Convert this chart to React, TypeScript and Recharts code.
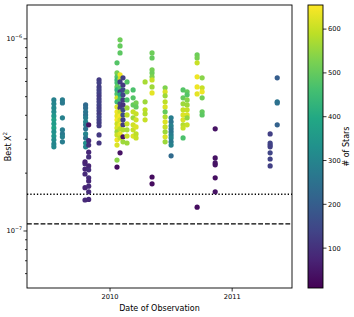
import React from 'react';
import { ScatterChart, Scatter, XAxis, YAxis, ReferenceLine } from 'recharts';

// Observation epochs (decimal year)
const epochDates = [
  2009.54, 2009.61, 2009.8, 2009.795, 2009.825, 2009.91, 2010.057, 2010.082, 2010.106, 2010.139, 2010.189,
  2010.213, 2010.287, 2010.344, 2010.451, 2010.5, 2010.598, 2010.631, 2010.713, 2010.754, 2010.861, 2011.311, 2011.369,
];

// Best chi^2 values, in units of 1e-7
const chiE7: number[][] = [
  [4.81, 4.59, 4.37, 4.17, 3.97, 3.79, 3.61, 3.44, 3.28, 3.12, 2.98, 2.84, 2.74],
  [4.81, 4.64, 3.88, 3.36, 3.2, 3.09, 2.91],
  [4.53, 4.37, 4.17, 4.02, 3.88, 3.7, 3.57, 3.4, 3.2, 3.05, 2.87, 2.74],
  [2.24, 2.1, 1.45, 2.29, 1.98, 1.68],
  [3.57, 2.95, 2.8, 2.57, 2.43, 2.18, 2.08, 1.89, 1.82, 1.71, 1.6, 1.46],
  [6.11, 5.9, 5.62, 5.42, 5.23, 5.05, 4.87, 4.7, 4.53, 4.37, 4.22, 4.07, 3.93, 3.79, 3.66, 3.53, 3.16, 2.87],
  [7.5, 6.65, 6.34, 6.11, 5.9, 5.62, 5.42, 5.17, 4.93, 4.7, 4.42, 4.17, 3.97, 3.79, 3.61, 3.44, 3.28, 3.16, 2.98, 2.8, 2.34, 2.15],
  [9.88, 9.19, 8.45, 6.5, 6.2, 5.97, 5.56, 5.3, 5.11, 4.87, 4.59, 4.37, 4.17, 3.97, 3.79, 3.57, 3.4, 3.2, 3.05, 2.55],
  [6.27, 5.75, 5.42, 5.11, 4.81, 4.53, 4.27, 4.02, 3.79, 3.57, 3.36, 3.09, 2.91],
  [5.97, 5.3, 4.81, 4.37, 4.02, 3.61, 3.36, 3.12, 2.87],
  [5.42, 4.93, 4.53, 4.17, 3.88, 3.57, 3.36, 3.12],
  [4.64, 4.42, 4.07, 3.79, 3.48, 3.2, 3.05],
  [5.97, 4.7, 4.27, 4.07, 3.79],
  [8.45, 7.96, 6.9, 6.65, 6.34, 6.11, 5.62, 5.23, 1.91, 1.76],
  [5.56, 5.3, 5.05, 4.7, 4.42, 4.17, 3.93, 3.7, 3.48, 3.28, 3.09, 2.91],
  [3.88, 3.7, 3.53, 3.4, 3.28, 3.16, 3.05, 2.91, 2.8, 2.46],
  [5.42, 4.93, 4.59, 4.27, 4.02, 3.79, 3.57, 3.44, 3.05],
  [5.3, 5.11, 4.81, 4.53, 4.27, 4.02, 3.88, 3.57],
  [8.25, 7.96, 7.5, 6.34, 5.62, 5.17, 1.33],
  [6.27, 5.56, 5.3, 4.93, 4.17, 4.02],
  [3.4, 2.4, 2.26, 2.21, 1.89, 1.6],
  [3.2, 2.87, 2.8, 2.74, 2.55, 2.37, 2.18],
  [6.27, 4.7, 4.64, 3.57],
];

// Number of stars for each point
const nStars: number[][] = [
  [290, 300, 310, 320, 350, 370, 360, 380, 330, 340, 320, 300, 310],
  [280, 270, 290, 280, 270, 290, 280],
  [230, 240, 260, 250, 280, 300, 270, 250, 300, 260, 330, 300],
  [90, 80, 85, 70, 85, 75],
  [40, 90, 100, 80, 95, 75, 95, 90, 80, 85, 90, 80],
  [120, 130, 125, 130, 135, 120, 125, 130, 135, 125, 130, 120, 140, 130, 125, 120, 115, 110],
  [480, 520, 480, 440, 460, 500, 420, 470, 600, 450, 620, 640, 630, 650, 600, 620, 560, 600, 640, 620, 540, 30],
  [510, 500, 490, 640, 600, 120, 470, 130, 400, 460, 140, 120, 600, 650, 610, 640, 590, 630, 600, 40],
  [130, 110, 150, 140, 120, 100, 150, 160, 130, 120, 580, 40, 560],
  [480, 500, 470, 560, 590, 600, 570, 600, 560],
  [470, 480, 500, 600, 560, 610, 600, 620],
  [520, 500, 600, 610, 620, 590, 600],
  [570, 560, 590, 580, 600],
  [510, 500, 520, 510, 530, 600, 560, 630, 30, 30],
  [530, 620, 560, 590, 620, 500, 580, 620, 600, 560, 620, 560],
  [280, 260, 290, 270, 260, 280, 300, 270, 290, 230],
  [480, 500, 560, 600, 620, 620, 580, 600, 470],
  [500, 480, 540, 560, 600, 620, 550, 600],
  [510, 520, 600, 640, 640, 630, 30],
  [540, 600, 640, 520, 500, 490],
  [40, 40, 45, 40, 35, 40],
  [130, 140, 135, 130, 140, 135, 130],
  [200, 260, 250, 210],
];

const xTicks = [2010, 2011];
const yMajorTicks = [1, 10];
const yMinorTicks = [0.6, 0.7, 0.8, 0.9, 2, 3, 4, 5, 6, 7, 8, 9];
const cbTicks = [100, 200, 300, 400, 500, 600];
const STAR_MIN = 9;
const STAR_MAX = 655;
const dottedLevel = 1.553;
const dashedLevel = 1.088;
const xDomain = [2009.32, 2011.49];
const yDomain = [0.505, 15];

const VIRIDIS = ['#440154', '#482475', '#414487', '#355f8d', '#2a788e', '#21918c', '#22a884', '#44bf70', '#7ad151', '#bddf26', '#fde725'];

function hexToRgb(h: string) {
  return [parseInt(h.slice(1, 3), 16), parseInt(h.slice(3, 5), 16), parseInt(h.slice(5, 7), 16)];
}
function viridis(t: number) {
  const tt = Math.max(0, Math.min(1, t)) * (VIRIDIS.length - 1);
  const i = Math.min(Math.floor(tt), VIRIDIS.length - 2);
  const f = tt - i;
  const a = hexToRgb(VIRIDIS[i]);
  const b = hexToRgb(VIRIDIS[i + 1]);
  const c = a.map((v, k) => Math.round(v + (b[k] - v) * f));
  return `rgb(${c[0]},${c[1]},${c[2]})`;
}

const points = epochDates.flatMap((d, i) =>
  chiE7[i].map((c, j) => ({ date: d, chi: c, stars: nStars[i][j], color: viridis((nStars[i][j] - STAR_MIN) / (STAR_MAX - STAR_MIN)) }))
);

const W = 354;
const H = 317;
const PL = 27;
const PT = 5;
const PR = 292;
const PB = 288;
const FONT = 'DejaVu Sans, sans-serif';
const TICK_FS = 6.7;

const supMap: Record<number, string> = { 1: '\u22127', 10: '\u22126' };

const YTick = (props: any) => {
  const { x, y, payload } = props;
  const v = payload.value;
  const major = v === 1 || v === 10;
  return (
    <g>
      <line x1={x - (major ? 3.5 : 2)} x2={x} y1={y} y2={y} stroke="#000" strokeWidth={0.8} />
      {major && (
        <text x={x - 5} y={y + 2.4} textAnchor="end" fontFamily={FONT} fontSize={TICK_FS} fill="#000">
          10
          <tspan fontSize={4.8} dy={-3.2}>{supMap[v]}</tspan>
        </text>
      )}
    </g>
  );
};

const XTick = (props: any) => {
  const { x, y, payload } = props;
  return (
    <g>
      <line x1={x} x2={x} y1={y} y2={y + 3.5} stroke="#000" strokeWidth={0.8} />
      <text x={x} y={y + 11} textAnchor="middle" fontFamily={FONT} fontSize={TICK_FS} fill="#000">
        {payload.value}
      </text>
    </g>
  );
};

const Dot = (props: any) => {
  const { cx, cy, payload } = props;
  if (cx == null || cy == null) return null;
  return <circle cx={cx} cy={cy} r={2.6} fill={payload.color} />;
};

export default function App() {
  const cbX = 308;
  const cbW = 15;
  const cbY = (v: number) => PT + ((STAR_MAX - v) / (STAR_MAX - STAR_MIN)) * (PB - PT);
  return (
    <div style={{ position: 'absolute', left: 0, top: 0, width: W, height: H, background: '#fff' }}>
      <ScatterChart width={W} height={H} margin={{ top: PT, right: W - PR, bottom: 0, left: 0 }}>
        <XAxis
          type="number"
          dataKey="date"
          domain={xDomain}
          ticks={xTicks}
          allowDataOverflow
          axisLine={false}
          tickLine={false}
          tickSize={0}
          tickMargin={0}
          height={H - PB}
          tick={<XTick />}
          interval={0}
        />
        <YAxis
          type="number"
          dataKey="chi"
          scale="log"
          domain={yDomain}
          ticks={[...yMinorTicks, ...yMajorTicks]}
          allowDataOverflow
          axisLine={false}
          tickLine={false}
          tickSize={0}
          tickMargin={0}
          width={PL}
          tick={<YTick />}
          interval={0}
        />
        <Scatter data={points} isAnimationActive={false} shape={<Dot />} />
        <ReferenceLine y={dottedLevel} stroke="#000" strokeWidth={1.3} strokeDasharray="1.3 2" ifOverflow="visible" />
        <ReferenceLine y={dashedLevel} stroke="#000" strokeWidth={1.3} strokeDasharray="4.8 2" ifOverflow="visible" />
      </ScatterChart>
      <svg width={W} height={H} style={{ position: 'absolute', left: 0, top: 0, pointerEvents: 'none' }}>
        <defs>
          <linearGradient id="viridisGrad" x1="0" y1="1" x2="0" y2="0">
            {VIRIDIS.map((c, i) => (
              <stop key={i} offset={i / (VIRIDIS.length - 1)} stopColor={c} />
            ))}
          </linearGradient>
        </defs>
        <rect x={PL} y={PT} width={PR - PL} height={PB - PT} fill="none" stroke="#000" strokeWidth={0.9} />
        <text
          x={10.5}
          y={(PT + PB) / 2}
          transform={`rotate(-90 10.5 ${(PT + PB) / 2})`}
          textAnchor="middle"
          fontFamily={FONT}
          fontSize={8}
          fill="#000"
        >
          Best X
          <tspan fontSize={5.6} dy={-3.5}>2</tspan>
        </text>
        <text x={(PL + PR) / 2} y={311} textAnchor="middle" fontFamily={FONT} fontSize={8} fill="#000">
          Date of Observation
        </text>
        <rect x={cbX} y={PT} width={cbW} height={PB - PT} fill="url(#viridisGrad)" stroke="#000" strokeWidth={0.9} />
        {cbTicks.map((t) => (
          <g key={t}>
            <line x1={cbX + cbW} x2={cbX + cbW + 3.5} y1={cbY(t)} y2={cbY(t)} stroke="#000" strokeWidth={0.8} />
            <text x={cbX + cbW + 5} y={cbY(t) + 2.4} fontFamily={FONT} fontSize={TICK_FS} fill="#000">
              {t}
            </text>
          </g>
        ))}
        <text
          x={349}
          y={(PT + PB) / 2}
          transform={`rotate(-90 349 ${(PT + PB) / 2})`}
          textAnchor="middle"
          fontFamily={FONT}
          fontSize={8}
          fill="#000"
        >
          # of Stars
        </text>
      </svg>
    </div>
  );
}
